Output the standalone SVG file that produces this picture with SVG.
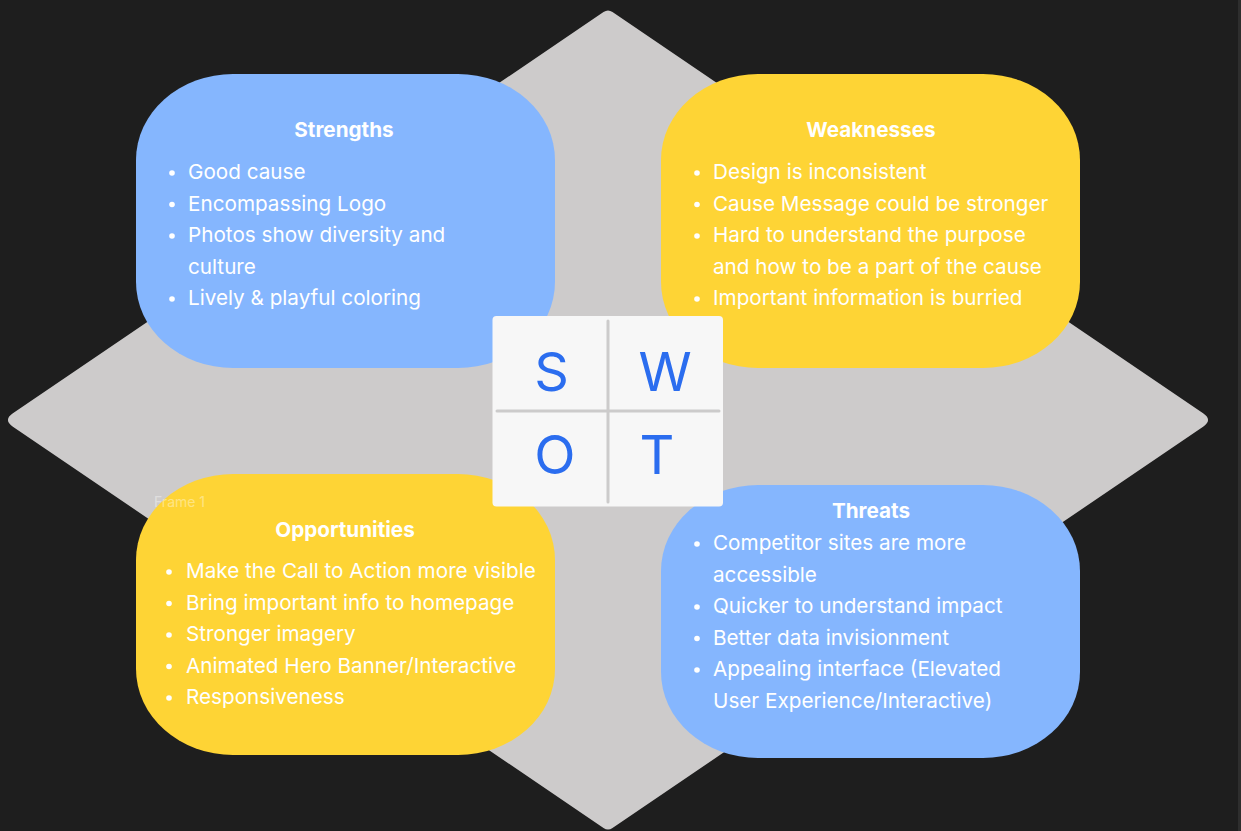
<svg xmlns="http://www.w3.org/2000/svg" width="1241" height="831" viewBox="0 0 1241 831">
  <style>
    .title { font-family: Inter, "Noto Sans", "Liberation Sans", sans-serif; font-size: 20.7px; font-weight: 700; fill: #ffffff; text-anchor: middle; }
    .item { font-family: Inter, "Noto Sans", "Liberation Sans", sans-serif; font-size: 20.7px; font-weight: 400; fill: #ffffff; }
    .dot { fill: #ffffff; }
    .blue { fill: #85b6fe; }
    .yellow { fill: #fed435; }
    .letter { font-family: Inter, "Noto Sans", "Liberation Sans", sans-serif; font-size: 54px; font-weight: 400; fill: #2b6def; text-anchor: middle; }
    .divider { stroke: #cccbcb; stroke-width: 3; stroke-linecap: round; }
    .frame-label { font-family: Inter, "Noto Sans", "Liberation Sans", sans-serif; font-size: 14px; fill: #ffffff; fill-opacity: 0.4; }
  </style>

  <!-- canvas -->
  <rect x="0" y="0" width="1241" height="831" fill="#1e1e1e"/>
  <rect x="1238" y="0" width="3" height="831" fill="#2e2e2e"/>

  <!-- backdrop diamond -->
  <path id="backdrop" fill="#cdcbcb" d="M603.5,12 Q608,9 612.5,12 L1203.1,413.3 Q1213,420 1203.1,426.7 L612.5,828 Q608,831 603.5,828 L12.9,426.7 Q3,420 12.9,413.3 Z"/>

  <!-- no connectors in this chart -->
  <g id="connectors"/>

  <g id="strengths">
    <rect class="blue" x="136" y="74" width="419" height="294" rx="97" ry="86"/>
    <text class="title" x="344" y="137">Strengths</text>
    <circle class="dot" cx="172" cy="173" r="2.8"/>
    <text class="item" x="188" y="179">Good cause</text>
    <circle class="dot" cx="172" cy="204.5" r="2.8"/>
    <text class="item" x="188" y="210.5">Encompassing Logo</text>
    <circle class="dot" cx="172" cy="236" r="2.8"/>
    <text class="item" x="188" y="242">Photos show diversity and</text>
    <text class="item" x="188" y="273.5">culture</text>
    <circle class="dot" cx="172" cy="299" r="2.8"/>
    <text class="item" x="188" y="305">Lively &amp; playful coloring</text>
  </g>

  <g id="weaknesses">
    <rect class="yellow" x="661" y="74" width="419" height="294" rx="97" ry="86"/>
    <text class="title" x="871" y="137">Weaknesses</text>
    <circle class="dot" cx="697" cy="173" r="2.8"/>
    <text class="item" x="713" y="179">Design is inconsistent</text>
    <circle class="dot" cx="697" cy="204.5" r="2.8"/>
    <text class="item" x="713" y="210.5">Cause Message could be stronger</text>
    <circle class="dot" cx="697" cy="236" r="2.8"/>
    <text class="item" x="713" y="242">Hard to understand the purpose</text>
    <text class="item" x="713" y="273.5">and how to be a part of the cause</text>
    <circle class="dot" cx="697" cy="299" r="2.8"/>
    <text class="item" x="713" y="305">Important information is burried</text>
  </g>

  <g id="opportunities">
    <rect class="yellow" x="136" y="474" width="419" height="281" rx="97" ry="86"/>
    <text class="title" x="345" y="537">Opportunities</text>
    <circle class="dot" cx="169" cy="572" r="2.8"/>
    <text class="item" x="186" y="578">Make the Call to Action more visible</text>
    <circle class="dot" cx="169" cy="603.5" r="2.8"/>
    <text class="item" x="186" y="609.5">Bring important info to homepage</text>
    <circle class="dot" cx="169" cy="635" r="2.8"/>
    <text class="item" x="186" y="641">Stronger imagery</text>
    <circle class="dot" cx="169" cy="666.5" r="2.8"/>
    <text class="item" x="186" y="672.5">Animated Hero Banner/Interactive</text>
    <circle class="dot" cx="169" cy="698" r="2.8"/>
    <text class="item" x="186" y="704">Responsiveness</text>
  </g>

  <g id="threats">
    <rect class="blue" x="661" y="485" width="419" height="273" rx="97" ry="86"/>
    <text class="title" x="871" y="518">Threats</text>
    <circle class="dot" cx="697" cy="544" r="2.8"/>
    <text class="item" x="713" y="550">Competitor sites are more</text>
    <text class="item" x="713" y="581.5">accessible</text>
    <circle class="dot" cx="697" cy="607" r="2.8"/>
    <text class="item" x="713" y="613">Quicker to understand impact</text>
    <circle class="dot" cx="697" cy="638.5" r="2.8"/>
    <text class="item" x="713" y="644.5">Better data invisionment</text>
    <circle class="dot" cx="697" cy="670" r="2.8"/>
    <text class="item" x="713" y="676">Appealing interface (Elevated</text>
    <text class="item" x="713" y="707.5">User Experience/Interactive)</text>
  </g>

  <g id="swot-key">
    <rect x="492.5" y="316" width="230.5" height="190.5" rx="4" fill="#f7f7f7"/>
    <line class="divider" x1="608" y1="321" x2="608" y2="502"/>
    <line class="divider" x1="497" y1="411" x2="719" y2="411"/>
    <text class="letter" x="551.5" y="391">S</text>
    <text class="letter" x="665" y="391">W</text>
    <text class="letter" x="555" y="474">O</text>
    <text class="letter" x="657" y="474">T</text>
  </g>

  <text id="frame-label" class="frame-label" x="154" y="507">Frame 1</text>
</svg>
